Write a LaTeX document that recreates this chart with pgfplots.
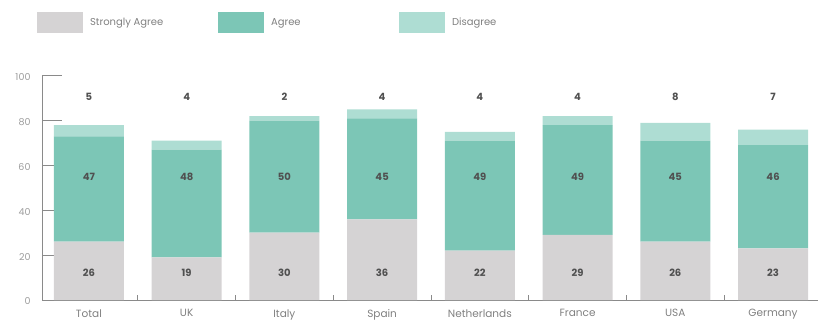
\documentclass[border=0pt]{standalone}
\usepackage{fontspec}
\setmainfont{Poppins}
\usepackage{pgfplots}
\usepackage{pgfplotstable}
\pgfplotsset{compat=1.18}
\definecolor{sagree}{HTML}{D5D3D4}
\definecolor{agree}{HTML}{7CC6B6}
\definecolor{disagree}{HTML}{AEDDD3}
\definecolor{axisgray}{HTML}{8A8A8A}
\definecolor{labgray}{HTML}{808080}
\definecolor{tickgray}{HTML}{9C9C9C}
\definecolor{numgray}{HTML}{505050}
\pgfplotsset{mybox/.style={legend image code/.code={\fill[##1,draw=none] (0pt,-10.5pt) rectangle (46pt,10.5pt);}}}
\pgfplotstableread{
x sa ag dis
0 26 47 5
1 19 48 4
2 30 50 2
3 36 45 4
4 22 49 4
5 29 49 4
6 26 45 8
7 23 46 7
}\datatab
\begin{document}
\begin{tikzpicture}
\begin{axis}[
  name=ax,
  scale only axis,
  width=776pt, height=224.3pt,
  xmin=-0.48, xmax=7.46, ymin=0, ymax=100,
  ybar stacked, bar width=70pt,
  every axis plot post/.append style={mybox},
  axis x line*=bottom, axis y line*=left,
  axis line style={axisgray, line width=0.8pt},
  every tick/.style={axisgray, line width=0.8pt},
  xtick={0,...,7},
  xticklabels={Total,UK,Italy,Spain,Netherlands,France,USA,Germany},
  major x tick style={draw=none},
  minor xtick={0.5,1.5,...,6.5},
  minor tick length=5pt,
  ytick={0,20,...,100},
  major tick length=20pt,
  tick align=inside,
  xticklabel style={font=\fontsize{10.5}{12}\selectfont, text=labgray, yshift=-6pt},
  yticklabel style={font=\fontsize{9.5}{11}\selectfont, text=tickgray, xshift=-8pt, yshift=-1.5pt},
  /pgf/number format/assume math mode=true,
  legend style={draw=none, fill=none, inner sep=0pt, outer sep=0pt,
    at={(axis description cs:-0.0064,1.284)}, anchor=north west,
    legend columns=3,
    /tikz/every odd column/.append style={column sep=7pt},
    /tikz/every even column/.append style={column sep=0pt},
    font=\fontsize{10}{12}\selectfont, text=labgray,
    nodes={inner sep=0pt}},
  legend cell align=left,
]
\addplot[fill=sagree, draw=none] table[x=x, y=sa] {\datatab};
\addlegendentry{\makebox[128pt][l]{Strongly Agree}}
\addplot[fill=agree, draw=none] table[x=x, y=ag] {\datatab};
\addlegendentry{\makebox[128pt][l]{Agree}}
\addplot[fill=disagree, draw=none] table[x=x, y=dis] {\datatab};
\addlegendentry{\makebox[128pt][l]{Disagree}}
\end{axis}
\begin{axis}[
  at={(ax.south west)}, anchor=south west,
  scale only axis,
  width=776pt, height=224.3pt,
  xmin=-0.48, xmax=7.46, ymin=0, ymax=100,
  hide axis,
  every node near coord/.style={anchor=center, font=\bfseries\fontsize{10}{12}\selectfont, text=numgray},
]
\addplot[draw=none, mark=none, nodes near coords, point meta=explicit symbolic] table[x=x, y expr=12, meta=sa] {\datatab};
\addplot[draw=none, mark=none, nodes near coords, point meta=explicit symbolic] table[x=x, y expr=55, meta=ag] {\datatab};
\addplot[draw=none, mark=none, nodes near coords, point meta=explicit symbolic] table[x=x, y expr=90.5, meta=dis] {\datatab};
\end{axis}
\pgfresetboundingbox
\path[use as bounding box] ([xshift=-42pt,yshift=-24pt]ax.south west) rectangle ([yshift=75.7pt]ax.north east);
\end{tikzpicture}
\end{document}
